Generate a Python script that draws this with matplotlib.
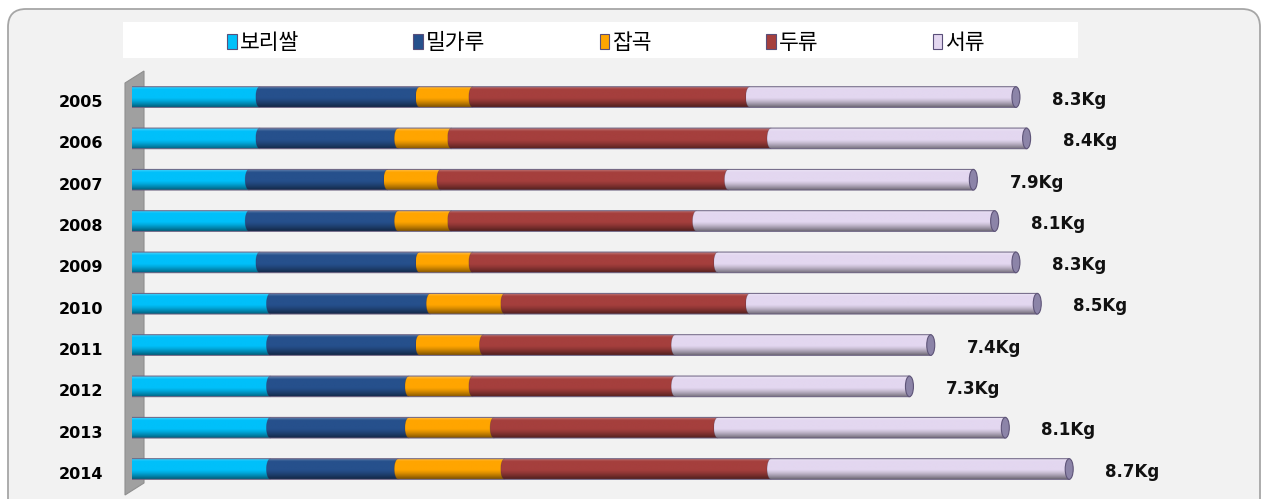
import numpy as np
import matplotlib
matplotlib.use('Agg')
import matplotlib.pyplot as plt
import matplotlib.transforms as mtransforms
from matplotlib.patches import Polygon, Ellipse, FancyBboxPatch, Rectangle, Patch
from matplotlib.colors import to_rgb

# 연도별 1인당 소비량 (Kg)
years = ['2005', '2006', '2007', '2008', '2009', '2010', '2011', '2012', '2013', '2014']
barley_rice = [1.2, 1.2, 1.1, 1.1, 1.2, 1.3, 1.3, 1.3, 1.3, 1.3]
flour = [1.5, 1.3, 1.3, 1.4, 1.5, 1.5, 1.4, 1.3, 1.3, 1.2]
grains = [0.5, 0.5, 0.5, 0.5, 0.5, 0.7, 0.6, 0.6, 0.8, 1.0]
beans = [2.6, 3.0, 2.7, 2.3, 2.3, 2.3, 1.8, 1.9, 2.1, 2.5]
tubers = [2.5, 2.4, 2.3, 2.8, 2.8, 2.7, 2.4, 2.2, 2.7, 2.8]
totals = [8.3, 8.4, 7.9, 8.1, 8.3, 8.5, 7.4, 7.3, 8.1, 8.7]

names = ['보리쌀', '밀가루', '잡곡', '두류', '서류']
series = [barley_rice, flour, grains, beans, tubers]
colors = ['#00c0fa', '#26508c', '#ffa500', '#a53f3d', '#e3d7f0']

W, H = 1263, 499
fig = plt.figure(figsize=(W / 100, H / 100), dpi=100)
fig.patch.set_facecolor('white')

# background decorations in pixel coordinates
bg = fig.add_axes([0, 0, 1, 1])
bg.set_xlim(0, W)
bg.set_ylim(H, 0)
bg.axis('off')
bg.add_patch(FancyBboxPatch((8, 9), 1252, 530, boxstyle='round,pad=0,rounding_size=18',
                            facecolor='#f2f2f2', edgecolor='#a6a6a6', lw=1.3))
bg.add_patch(Rectangle((123, 22), 955, 36, facecolor='white', edgecolor='none'))
bg.add_patch(Polygon([(125, 83), (144, 71), (144, 483), (125, 495)],
                     facecolor='#a0a0a0', edgecolor='#8f8f8f', lw=0.8))


def shade(color, n=48):
    base = np.array(to_rgb(color))
    rows = []
    for v in np.linspace(0, 1, n):
        if v < 0.15:
            c = base + (1 - base) * 0.3 * (1 - v / 0.15)
        elif v < 0.55:
            c = base
        else:
            c = base * (1 - 0.5 * ((v - 0.55) / 0.45) ** 1.3)
        rows.append(c)
    return np.clip(np.array(rows), 0, 1)[:, None, :]


def rounded_bar(x0, x1, yc, h, a):
    th = np.linspace(np.pi / 2, 3 * np.pi / 2, 30)
    pts = list(zip(x0 + a * np.cos(th), yc + h * np.sin(th)))
    pts += [(x1, yc - h), (x1, yc + h)]
    return pts


left_px, scale = 132, 106.5
ax = fig.add_axes([left_px / W, (H - 489.7) / H, 1065 / W, 413.3 / H])
ax.patch.set_alpha(0)

h = 0.25
a = 4 / scale
grads = [shade(c) for c in colors]

for i in range(len(years)):
    left = 0.0
    for k, vals in enumerate(series):
        x0, x1 = left, left + vals[i]
        poly = Polygon(rounded_bar(x0, x1, i, h, a), closed=True, transform=ax.transData)
        im = ax.imshow(grads[k], extent=(x0 - a, x1, i - h, i + h), origin='lower',
                       aspect='auto', interpolation='bilinear', zorder=2 + k)
        im.set_clip_path(poly)
        if k > 0:
            th = np.linspace(np.pi / 2, 3 * np.pi / 2, 30)
            ax.plot(x0 + a * np.cos(th), i + h * np.sin(th), color='#3a2f4a',
                    lw=0.5, alpha=0.35, zorder=2 + k)
        left = x1
    ax.add_patch(Polygon(rounded_bar(0, left, i, h, a), closed=True, facecolor='none',
                         edgecolor='#6a6080', lw=0.7, zorder=10))
    ax.add_patch(Ellipse((left, i), 2 * a, 2 * h, facecolor='#8c84a8',
                         edgecolor='#5e5478', lw=0.8, zorder=11))
    ax.annotate(f'{totals[i]}Kg', (left, i), xytext=(26, -2), textcoords='offset points',
                ha='left', va='center', fontsize=12, fontweight='bold', color='#111111',
                family='DejaVu Sans')

ax.set_xlim(0, 10)
ax.set_ylim(len(years) - 0.5, -0.5)
ax.set_xticks([])
ax.set_yticks(range(len(years)))
ax.set_yticklabels(years, fontsize=11.5, fontweight='bold', family='DejaVu Sans')
ax.tick_params(axis='y', length=0, pad=21)
for lab in ax.get_yticklabels():
    lab.set_transform(lab.get_transform() + mtransforms.ScaledTranslation(0, -4 / 100, fig.dpi_scale_trans))
for s in ax.spines.values():
    s.set_visible(False)

handles = [Patch(facecolor=c, edgecolor='#5a4f7a', lw=0.8) for c in colors]
fig.legend(handles, names, loc='center', bbox_to_anchor=(606 / W, 1 - 43 / H), ncol=5,
           frameon=False, handlelength=0.45, handleheight=0.7, handletextpad=0.15,
           columnspacing=5.3, prop={'family': ['Noto Sans CJK KR', 'DejaVu Sans'], 'size': 15.5})

fig.savefig('out.png', dpi=100)
